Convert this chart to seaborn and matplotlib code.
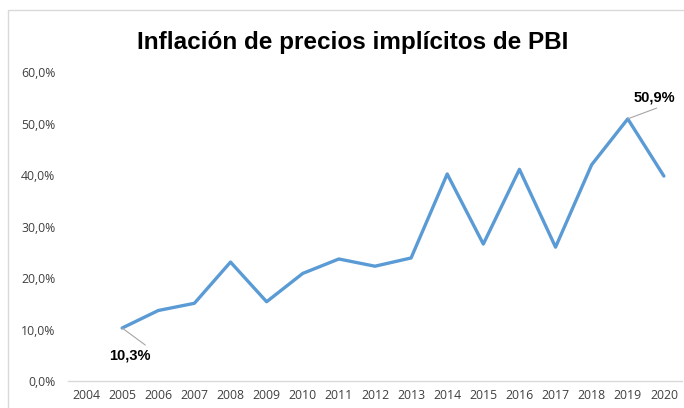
import pandas as pd
import seaborn as sns
import matplotlib.pyplot as plt
from matplotlib.patches import Rectangle
from matplotlib.ticker import FuncFormatter

years = list(range(2005, 2021))
inflation = [10.3, 13.7, 15.1, 23.1, 15.4, 20.9, 23.7, 22.3, 23.9,
             40.2, 26.6, 41.1, 26.0, 42.0, 50.9, 39.8]
year_ticks = list(range(2004, 2021))

df = pd.DataFrame({'year': years, 'inflation': inflation})

sns.set_style('white')
plt.rcParams['font.family'] = ['Open Sans', 'DejaVu Sans']

fig = plt.figure(figsize=(6.84, 4.08), dpi=100)
ax = fig.add_axes([0.0994, 0.066, 0.8976, 0.7575])

sns.lineplot(data=df, x='year', y='inflation', ax=ax, color='#5B9BD5', linewidth=2.4)

ax.set_xlim(2003.5, 2020.5)
ax.set_ylim(0, 60)
ax.set_xticks(year_ticks)
ax.set_yticks(range(0, 61, 10))
ax.yaxis.set_major_formatter(FuncFormatter(lambda v, p: f'{v:.1f}%'.replace('.', ',')))
ax.tick_params(axis='both', labelsize=8.8, colors='#404040', length=0)
ax.tick_params(axis='y', pad=9)
ax.tick_params(axis='x', pad=6)
ax.set_xlabel('')
ax.set_ylabel('')
for s in ['top', 'right', 'left']:
    ax.spines[s].set_visible(False)
ax.spines['bottom'].set_color('#D9D9D9')
ax.spines['bottom'].set_linewidth(1)
ax.patch.set_alpha(0)

# data labels with leader lines
lbl_font = dict(ha='center', va='center', fontsize=10.5, fontweight='bold',
                color='black', family=['Liberation Sans', 'DejaVu Sans'])
leader = dict(arrowstyle='-', color='#A6A6A6', lw=0.8, shrinkA=0, shrinkB=0)

first, peak = df.iloc[0], df.iloc[14]
ax.annotate('', xy=(first.year, first.inflation),
            xytext=(first.year + 0.64, first.inflation - 3.3), arrowprops=leader)
ax.text(first.year + 0.22, first.inflation - 5.4,
        f"{first.inflation:.1f}%".replace('.', ','), **lbl_font)
ax.annotate('', xy=(peak.year, peak.inflation),
            xytext=(peak.year + 0.8, peak.inflation + 2.1), arrowprops=leader)
ax.text(peak.year + 0.75, peak.inflation + 4.1,
        f"{peak.inflation:.1f}%".replace('.', ','), **lbl_font)

fig.text(0.516, 0.897, 'Inflación de precios implícitos de PBI', ha='center', va='center',
         fontsize=17.5, fontweight='heavy', color='black',
         family=['Liberation Sans', 'DejaVu Sans'])

# chart border
fig.patches.append(Rectangle((8 / 684, -0.1), 1.0, 1.1 - 10 / 408, transform=fig.transFigure,
                             fill=False, edgecolor='#D9D9D9', linewidth=1, zorder=0))

plt.savefig('out.png', dpi=100)
